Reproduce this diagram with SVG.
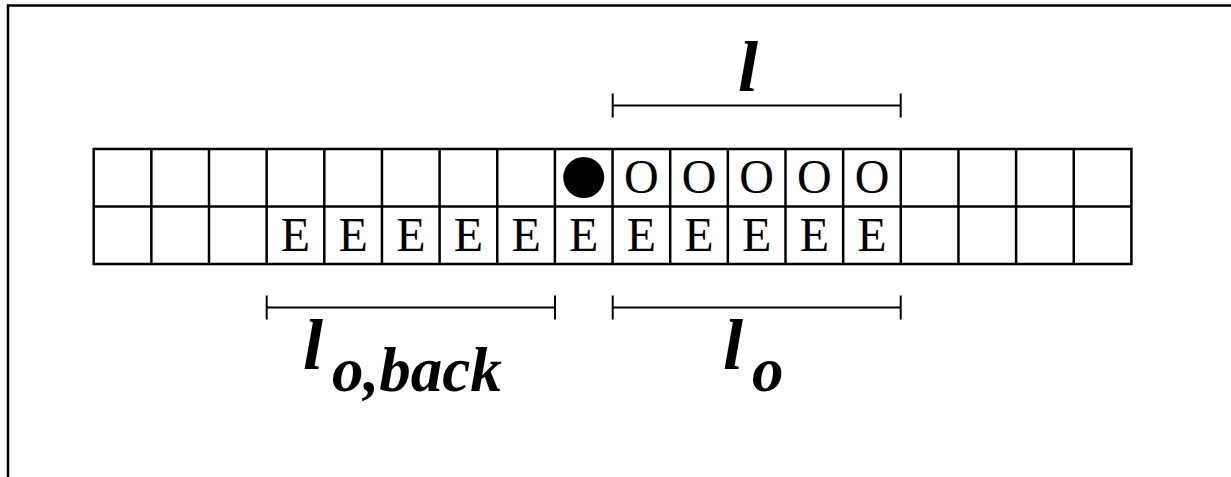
<svg xmlns="http://www.w3.org/2000/svg" width="1231" height="477" viewBox="0 0 1231 477">
<style>
.grid{stroke:#000;stroke-width:2.5;fill:none}
.br{stroke:#000;stroke-width:2;fill:none}
.cell{font-family:"Liberation Serif","Times New Roman",serif;font-size:48px;text-anchor:middle;fill:#000}
.lbl{font-family:"Liberation Serif","Times New Roman",serif;font-weight:bold;font-style:italic;font-size:72px;fill:#000}
.sub{font-size:63px}
</style>
<rect width="1231" height="477" fill="#fff"/>
<path d="M8,477 V5.5 H1231" stroke="#000" stroke-width="2.5" fill="none"/>
<g id="grid" class="grid">
<rect x="93.7" y="149" width="1037.7" height="115"/>
<line x1="93.7" y1="206.5" x2="1131.4" y2="206.5"/>
<path d="M151.35,149V264M209,149V264M266.65,149V264M324.3,149V264M381.95,149V264M439.6,149V264M497.25,149V264M554.9,149V264M612.55,149V264M670.2,149V264M727.85,149V264M785.5,149V264M843.15,149V264M900.8,149V264M958.45,149V264M1016.1,149V264M1073.75,149V264"/>
</g>
<g id="agent"><circle cx="583.7" cy="177.5" r="20.5" fill="#000"/></g>
<g id="row-o" class="cell">
<text x="641.4" y="193">O</text><text x="699" y="193">O</text><text x="756.7" y="193">O</text><text x="814.3" y="193">O</text><text x="872" y="193">O</text>
</g>
<g id="row-e" class="cell">
<text x="295.5" y="250.5">E</text><text x="353.1" y="250.5">E</text><text x="410.8" y="250.5">E</text><text x="468.4" y="250.5">E</text><text x="526.1" y="250.5">E</text><text x="583.7" y="250.5">E</text><text x="641.4" y="250.5">E</text><text x="699" y="250.5">E</text><text x="756.7" y="250.5">E</text><text x="814.3" y="250.5">E</text><text x="872" y="250.5">E</text>
</g>
<g id="connectors" class="br">
<path d="M612.7,105.5H900.7M612.7,93.5V117.5M900.7,93.5V117.5"/>
<path d="M266.7,307.5H555M266.7,295.5V319.5M555,295.5V319.5"/>
<path d="M612.7,307.5H900.7M612.7,295.5V319.5M900.7,295.5V319.5"/>
</g>
<g id="label-l"><text class="lbl" x="738" y="91">l</text></g>
<g id="label-lo"><text class="lbl" x="723" y="369">l<tspan class="sub" dx="9" dy="22">o</tspan></text></g>
<g id="label-loback"><text class="lbl" x="303" y="369">l<tspan class="sub" dx="9" dy="22">o,back</tspan></text></g>
</svg>
